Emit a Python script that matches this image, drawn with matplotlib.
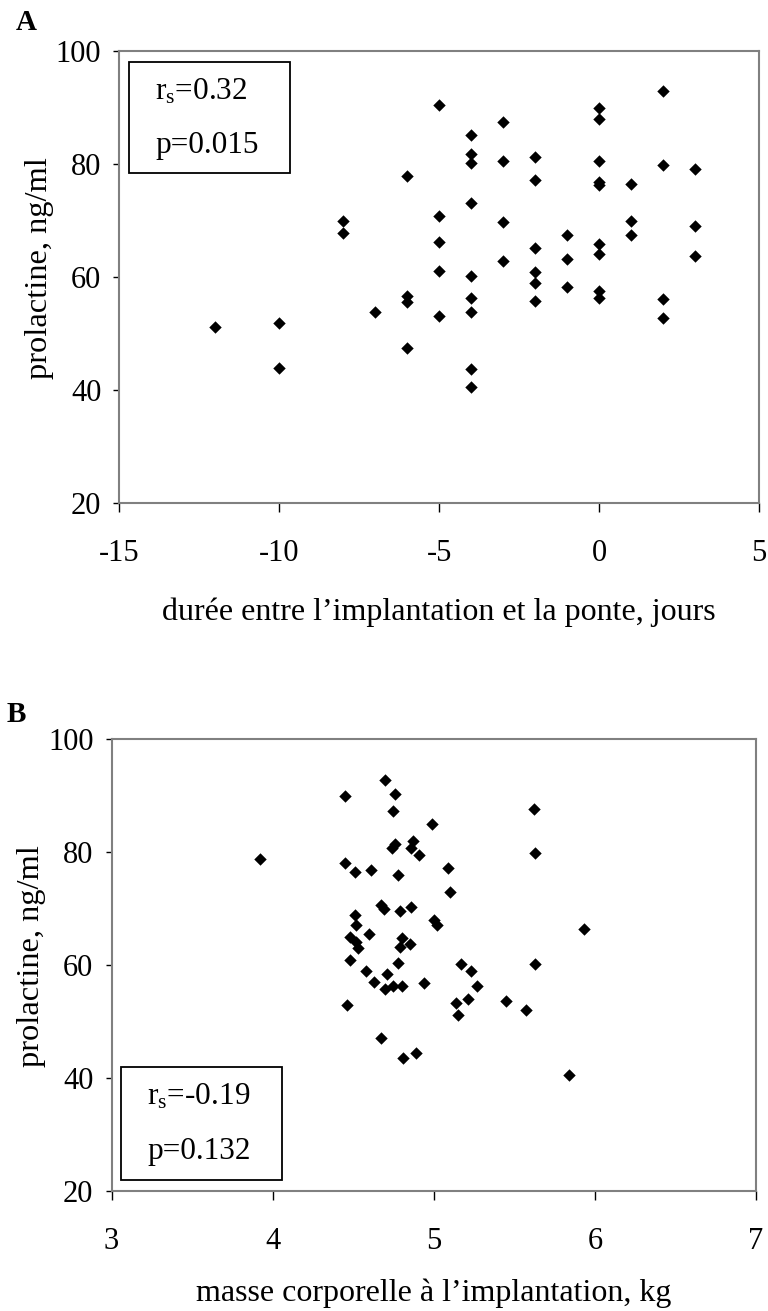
import matplotlib
matplotlib.use("Agg")
import matplotlib.pyplot as plt
from matplotlib.patches import Rectangle

plt.rcParams["font.family"] = ["Liberation Serif", "DejaVu Serif"]
plt.rcParams["mathtext.fontset"] = "custom"
plt.rcParams["mathtext.rm"] = "Liberation Serif"
plt.rcParams["mathtext.it"] = "Liberation Serif:italic"

# Panel A: days between implantation and laying vs prolactin
days = [-12, -10, -10, -8, -8, -7, -6, -6, -6, -6,
        -5, -5, -5, -5, -5,
        -4, -4, -4, -4, -4, -4, -4, -4, -4,
        -3, -3, -3, -3,
        -2, -2, -2, -2, -2, -2,
        -1, -1, -1,
        0, 0, 0, 0, 0, 0, 0, 0, 0,
        1, 1, 1,
        2, 2, 2, 2,
        3, 3, 3]
prl_a = [51.2, 51.9, 44.0, 70.0, 67.8, 53.9, 77.9, 56.6, 55.6, 47.4,
         90.4, 70.9, 66.3, 61.0, 53.2,
         85.1, 81.8, 80.2, 73.1, 60.2, 56.3, 53.9, 43.7, 40.6,
         87.4, 80.6, 69.7, 62.9,
         81.3, 77.2, 65.1, 60.9, 59.0, 55.8,
         67.5, 63.2, 58.3,
         90.0, 88.0, 80.6, 76.9, 76.3, 65.9, 64.1, 57.5, 56.3,
         76.5, 70.0, 67.4,
         93.0, 79.9, 56.2, 52.7,
         79.1, 69.0, 63.7]

# Panel B: body mass at implantation vs prolactin
mass = [3.92, 4.45, 4.70, 4.76, 4.75, 4.99, 4.74, 4.76, 4.87, 4.86,
        4.91, 4.45, 4.51, 4.61, 4.78, 4.67, 4.69, 4.79, 4.86, 5.00,
        5.02, 4.51, 4.52, 4.60, 4.48, 4.52, 4.53, 4.80, 4.79, 4.85,
        4.48, 4.78, 4.58, 4.71, 4.63, 4.70, 4.75, 4.80, 4.94, 4.46,
        4.67, 4.81, 4.89, 5.62, 5.63, 5.09, 5.10, 5.93, 5.17, 5.63,
        5.23, 5.27, 5.21, 5.14, 5.15, 5.45, 5.57, 5.84]
prl_b = [78.7, 90.0, 92.7, 90.2, 87.3, 84.9, 80.7, 81.5, 81.9, 80.7,
         79.5, 78.0, 76.4, 76.8, 76.0, 70.7, 70.0, 69.6, 70.2, 68.0,
         67.0, 68.8, 67.0, 65.5, 64.9, 64.0, 63.1, 64.7, 63.2, 63.7,
         60.9, 60.4, 59.0, 58.4, 57.0, 55.8, 56.3, 56.3, 56.8, 52.9,
         47.1, 43.6, 44.4, 87.7, 79.9, 77.1, 72.9, 66.3, 60.2, 60.2,
         58.9, 56.3, 53.9, 53.3, 51.2, 53.6, 52.0, 40.5]

xticks_a = [-15, -10, -5, 0, 5]
xticks_b = [3, 4, 5, 6, 7]
yticks = [20, 40, 60, 80, 100]

xlabel_a = "durée entre l’implantation et la ponte, jours"
xlabel_b = "masse corporelle à l’implantation, kg"
ylabel = "prolactine, ng/ml"
stats_a = (r"$\mathrm{r_s}$=0.32", "p=0.015")
stats_b = (r"$\mathrm{r_s}$=-0.19", "p=0.132")

fig = plt.figure(figsize=(7.68, 13.11), dpi=100)
ax_a = fig.add_axes([0.1555, 0.6161, 0.8328, 0.3450])
ax_b = fig.add_axes([0.1452, 0.0915, 0.8392, 0.3448])


def style(ax, x, y, xt, xlabel, xlabelpad):
    ax.scatter(x, y, marker="D", s=40, color="black", linewidths=0, zorder=3)
    ax.set_xlim(xt[0], xt[-1])
    ax.set_ylim(yticks[0], yticks[-1])
    ax.set_xticks(xt)
    ax.set_yticks(yticks)
    ax.set_xticklabels([str(v) for v in xt])
    ax.tick_params(axis="both", direction="out", width=1, color="black",
                   labelsize=22)
    ax.tick_params(axis="x", length=6.5, pad=19.5)
    ax.tick_params(axis="y", length=4.5, pad=8.5)
    for sp in ax.spines.values():
        sp.set_color("#808080")
        sp.set_linewidth(1.5)
    ax.set_xlabel(xlabel, fontsize=23, labelpad=xlabelpad)
    ax.set_ylabel(ylabel, fontsize=23.4, labelpad=1.5)
    ax.yaxis.label.set_y(0.52)


style(ax_a, days, prl_a, xticks_a, xlabel_a, 21)
style(ax_b, mass, prl_b, xticks_b, xlabel_b, 16)


def stat_box(x0, y0, w, h, lines):
    # box and text in figure pixel coordinates (origin at top-left)
    W, H = 768, 1311
    fig.patches.append(Rectangle((x0 / W, 1 - (y0 + h) / H), w / W, h / H,
                                 transform=fig.transFigure, fill=False,
                                 edgecolor="black", linewidth=1.3))
    cx = (x0 + 26) / W
    fig.text(cx, 1 - (y0 + 30) / H, lines[0], fontsize=22.5, va="center", ha="left")
    fig.text(cx, 1 - (y0 + 84) / H, lines[1], fontsize=22.5, va="center", ha="left")


stat_box(129, 62, 161, 111, stats_a)
stat_box(121, 1067, 161, 113, stats_b)

fig.text(16 / 768, 1 - 22.5 / 1311, "A", fontsize=21, fontweight="bold", va="center")
fig.text(7 / 768, 1 - 714 / 1311, "B", fontsize=21, fontweight="bold", va="center")

fig.savefig("out.png", dpi=100, facecolor="white")
